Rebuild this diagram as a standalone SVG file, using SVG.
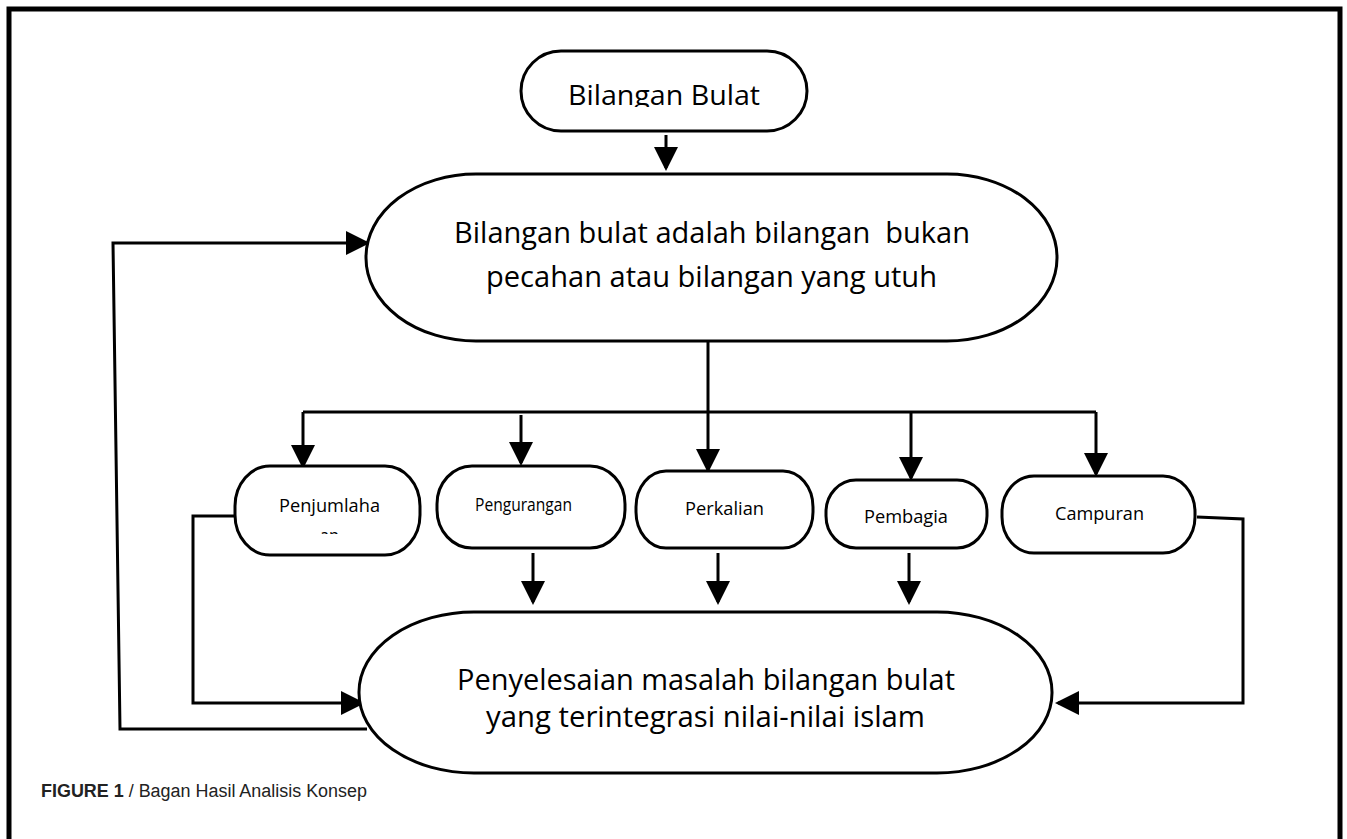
<svg xmlns="http://www.w3.org/2000/svg" width="1347" height="839" viewBox="0 0 1347 839">
<defs>
<marker id="ah" viewBox="0 0 24 24" refX="21" refY="12" markerWidth="24" markerHeight="24" markerUnits="userSpaceOnUse" orient="auto">
<path d="M0,0 L24,12 L0,24 Z" fill="#000"/>
</marker>
<clipPath id="clipTop"><rect x="500" y="40" width="330" height="67"/></clipPath>
<clipPath id="clipPen"><rect x="240" y="470" width="175" height="64"/></clipPath>
</defs>
<style>
.node{fill:#fff;stroke:#000;stroke-width:3}
.conn{fill:none;stroke:#000;stroke-width:3}
.arr{fill:none;stroke:#000;stroke-width:3;marker-end:url(#ah)}
.t{font-family:"Open Sans","Noto Sans","Liberation Sans",sans-serif;fill:#000;white-space:pre}
.big{font-size:30px}
.small{font-size:18px}
.cap{font-family:"Liberation Sans",Arial,sans-serif;font-size:18px;fill:#222}
</style>
<rect x="0" y="0" width="1347" height="839" fill="#fff"/>
<path d="M9,839 V9 H1340 V839" fill="none" stroke="#000" stroke-width="5"/>

<g id="connectors">
<line class="arr" x1="666" y1="135" x2="666" y2="168"/>
<polyline class="arr" points="367,729 120,729 113,243 367,243"/>
<polyline class="arr" points="235,516 193,516 193,703 362,703"/>
<polyline class="arr" points="1197,517 1243,519 1243,703 1058,703"/>
<line class="arr" x1="708" y1="342" x2="708" y2="470"/>
<polyline class="arr" points="303,412 303,466"/>
<polyline class="conn" points="303,412 1096,412"/>
<polyline class="arr" points="1096,412 1096,474"/>
<line class="arr" x1="521" y1="415" x2="521" y2="463"/>
<line class="arr" x1="911" y1="412" x2="911" y2="478"/>
<line class="arr" x1="533" y1="553" x2="533" y2="602"/>
<line class="arr" x1="718" y1="553" x2="718" y2="602"/>
<line class="arr" x1="909" y1="553" x2="909" y2="602"/>
</g>

<g id="n-bilangan-bulat">
<rect class="node" x="521" y="51" width="286" height="80" rx="40" ry="40"/>
<text class="t" x="568" y="105" font-size="28" textLength="192" lengthAdjust="spacingAndGlyphs" clip-path="url(#clipTop)">Bilangan Bulat</text>
</g>

<g id="n-definisi">
<rect class="node" x="366" y="174" width="691" height="167" rx="110" ry="83"/>
<text class="t big" x="454" y="243" textLength="516" lengthAdjust="spacingAndGlyphs">Bilangan bulat adalah bilangan  bukan</text>
<text class="t big" x="486" y="287" textLength="451" lengthAdjust="spacingAndGlyphs">pecahan atau bilangan yang utuh</text>
</g>

<g id="n-penjumlahan">
<rect class="node" x="235" y="466" width="185" height="89" rx="35" ry="40"/>
<g clip-path="url(#clipPen)">
<text class="t small" x="279" y="512" textLength="101" lengthAdjust="spacingAndGlyphs">Penjumlaha</text>
<text class="t small" x="320" y="542" textLength="19" lengthAdjust="spacingAndGlyphs">an</text>
</g>
</g>

<g id="n-pengurangan">
<rect class="node" x="437" y="466" width="188" height="82" rx="35" ry="38"/>
<text class="t small" x="475" y="511" textLength="97" lengthAdjust="spacingAndGlyphs">Pengurangan</text>
</g>

<g id="n-perkalian">
<rect class="node" x="636" y="471" width="177" height="77" rx="30" ry="36"/>
<text class="t small" x="685" y="515" textLength="79" lengthAdjust="spacingAndGlyphs">Perkalian</text>
</g>

<g id="n-pembagian">
<rect class="node" x="826" y="480" width="161" height="68" rx="30" ry="32"/>
<text class="t small" x="864" y="523" textLength="84" lengthAdjust="spacingAndGlyphs">Pembagia</text>
</g>

<g id="n-campuran">
<rect class="node" x="1002" y="476" width="193" height="77" rx="32" ry="36"/>
<text class="t small" x="1055" y="520" textLength="89" lengthAdjust="spacingAndGlyphs">Campuran</text>
</g>

<g id="n-penyelesaian">
<rect class="node" x="359" y="612" width="693" height="161" rx="115" ry="80"/>
<text class="t big" x="457" y="690" textLength="498" lengthAdjust="spacingAndGlyphs">Penyelesaian masalah bilangan bulat</text>
<text class="t big" x="486" y="727" textLength="439" lengthAdjust="spacingAndGlyphs">yang terintegrasi nilai-nilai islam</text>
</g>

<text class="cap" x="41" y="797" textLength="326" lengthAdjust="spacingAndGlyphs"><tspan font-weight="bold">FIGURE 1</tspan> / Bagan Hasil Analisis Konsep</text>
</svg>
